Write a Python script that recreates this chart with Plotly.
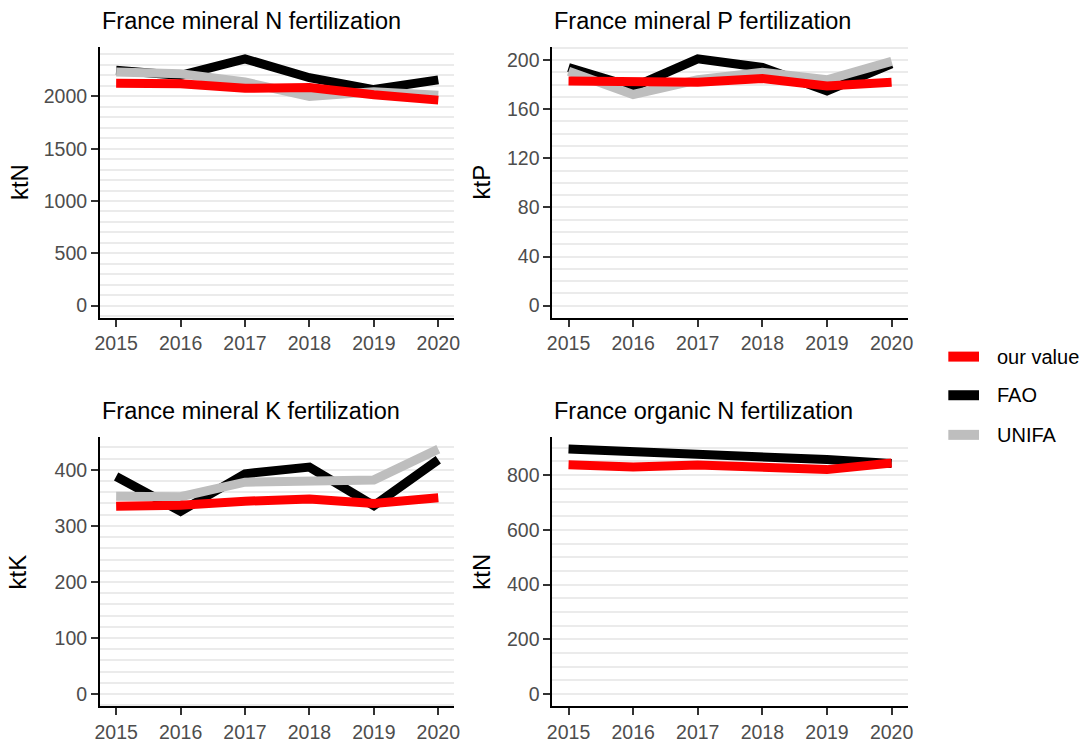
import plotly.graph_objects as go

# Years and series (kt of nutrient)
years = [2015, 2016, 2017, 2018, 2019, 2020]

n_min_our = [2125, 2120, 2077, 2084, 2015, 1964]
n_min_fao = [2250, 2200, 2358, 2178, 2065, 2158]
n_min_unifa = [2232, 2215, 2137, 2000, 2045, 2010]

p_min_our = [183, 182, 182, 185, 179, 182]
p_min_fao = [194, 178, 201, 194, 175, 197]
p_min_unifa = [191, 172, 184, 190, 184, 199]

k_min_our = [335, 337, 344, 348, 340, 350]
k_min_fao = [388, 326, 393, 405, 336, 418]
k_min_unifa = [353, 352, 378, 379, 382, 437]

n_org_our = [838, 830, 837, 832, 820, 844]
n_org_fao = [895, 886, 878, 871, 857, 842]

panel_titles = [
    "France mineral N fertilization",
    "France mineral P fertilization",
    "France mineral K fertilization",
    "France organic N fertilization",
]
unit_labels = ["ktN", "ktP", "ktK", "ktN"]
major_steps = [500, 40, 100, 200]
minor_steps = [100, 10, 20, 50]

series_names = ["our value", "FAO", "UNIFA"]
series_colors = {"our value": "#FF0000", "FAO": "#000000", "UNIFA": "#BEBEBE"}

panels = [
    {"our value": n_min_our, "FAO": n_min_fao, "UNIFA": n_min_unifa},
    {"our value": p_min_our, "FAO": p_min_fao, "UNIFA": p_min_unifa},
    {"our value": k_min_our, "FAO": k_min_fao, "UNIFA": k_min_unifa},
    {"our value": n_org_our, "FAO": n_org_fao},
]

W, H = 1084, 743
FONT = "Liberation Sans, Arial, sans-serif"

# panel boxes in pixels: (left, right, top, bottom)
boxes = [
    (96, 454, 47, 321),
    (553, 912, 47, 321),
    (96, 454, 441, 713),
    (553, 912, 441, 713),
]
# horizontal distance of each y-axis title from its axis line
ytitle_offsets = [82, 72, 83, 72]

fig = go.Figure()
annotations = []
shapes = []

for i, data in enumerate(panels):
    ax = "" if i == 0 else str(i + 1)
    # draw FAO first, UNIFA over it, our value on top
    for name in ["FAO", "UNIFA", "our value"]:
        if name not in data:
            continue
        fig.add_trace(go.Scatter(
            x=years, y=data[name], mode="lines", name=name,
            line=dict(color=series_colors[name], width=9),
            xaxis="x" + ax, yaxis="y" + ax, showlegend=False,
        ))

    ymax = max(max(v) for v in data.values())
    yrange = [0 - 0.05 * ymax, ymax * 1.05]
    xrange = [years[0] - 0.05 * (years[-1] - years[0]), years[-1] + 0.05 * (years[-1] - years[0])]

    l, r, t, b = boxes[i]
    fig.layout["xaxis" + ax] = dict(
        domain=[l / W, r / W], anchor="y" + ax, range=xrange,
        tickmode="array", tickvals=years, ticktext=[str(y) for y in years],
        showgrid=False, zeroline=False,
        showline=True, linecolor="black", linewidth=2,
        ticks="outside", ticklen=7, tickwidth=2, tickcolor="#333333",
        tickfont=dict(size=19.5, color="#4D4D4D", family=FONT),
    )
    fig.layout["yaxis" + ax] = dict(
        domain=[1 - b / H, 1 - t / H], anchor="x" + ax, range=yrange,
        dtick=major_steps[i], tick0=0,
        showgrid=True, gridcolor="#EBEBEB", gridwidth=2,
        minor=dict(dtick=minor_steps[i], tick0=0, showgrid=True,
                   gridcolor="#EBEBEB", gridwidth=2),
        zeroline=False,
        showline=True, linecolor="black", linewidth=2,
        ticks="outside", ticklen=7, tickwidth=2, tickcolor="#333333",
        tickfont=dict(size=19.5, color="#4D4D4D", family=FONT),
    )

    annotations.append(dict(
        text=panel_titles[i], x=l / W, y=1 - (t - 26) / H,
        xref="paper", yref="paper", xanchor="left", yanchor="middle",
        showarrow=False, font=dict(size=23.5, color="black", family=FONT),
    ))
    annotations.append(dict(
        text=unit_labels[i], x=(l - ytitle_offsets[i]) / W, y=1 - ((t + b) / 2) / H,
        xref="paper", yref="paper", xanchor="center", yanchor="middle",
        textangle=-90, showarrow=False,
        font=dict(size=24, color="black", family=FONT),
    ))

# legend: coloured key segments with their labels
legend_rows = [360, 399, 439]
for name, row in zip(series_names, legend_rows):
    shapes.append(dict(
        type="line", xref="paper", yref="paper",
        x0=953 / W, x1=984 / W, y0=1 - row / H, y1=1 - row / H,
        line=dict(color=series_colors[name], width=10),
    ))
    annotations.append(dict(
        text=name, x=1000 / W, y=1 - row / H,
        xref="paper", yref="paper", xanchor="left", yanchor="middle",
        showarrow=False, font=dict(size=20, color="black", family=FONT),
    ))

fig.update_layout(
    width=W, height=H,
    margin=dict(l=0, r=0, t=0, b=0),
    paper_bgcolor="white", plot_bgcolor="white",
    font=dict(family=FONT),
    annotations=annotations,
    shapes=shapes,
    showlegend=False,
)

fig.write_html("out.html")
